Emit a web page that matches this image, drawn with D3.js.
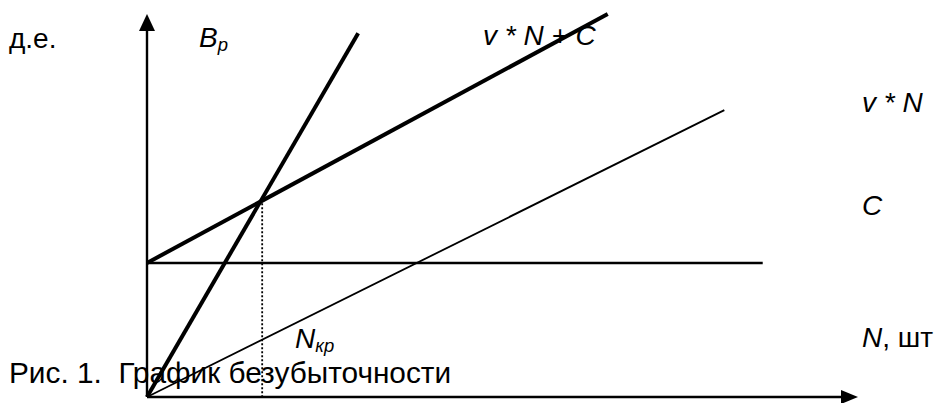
<!DOCTYPE html>
<html>
<head>
<meta charset="utf-8">
<script src="https://cdn.jsdelivr.net/npm/d3@7"></script>
<style>
  body { margin: 0; background: #fff; }
  text { font-family: "Liberation Sans", Arial, sans-serif; fill: #000; white-space: pre; }
</style>
</head>
<body>
<svg id="chart" width="934" height="403"></svg>
<script>
// break-even chart, values in conventional units (N 0..100, money 0..100)
var revenue = [[0, 0], [29.7, 95]]
var totalCost = [[0, 35], [64.8, 100]]
var variableCost = [[0, 0], [81.2, 74.9]]
var fixedCost = [[0, 35], [86.6, 35]]
var breakEven = [16.2, 50.6]

var svg = d3.select("#chart")

var x = d3.scaleLinear().domain([0, 100]).range([147, 858])
var y = d3.scaleLinear().domain([0, 100]).range([397, 14])

var line = d3.line()
    .x(function(d) { return x(d[0]) })
    .y(function(d) { return y(d[1]) })

// texts go under the lines, as in the original
var labels = svg.append("g").attr("class", "labels")
var fs = 28

function label(px, py, parts, italic, size) {
    var f = size || fs
    var t = labels.append("text")
        .attr("x", px)
        .attr("y", py)
        .style("font-size", f + "px")
    if (italic) t.style("font-style", "italic")
    parts.forEach(function(p) {
        var s = t.append("tspan").text(p.t)
        if (p.sub) s.attr("baseline-shift", "-22%").style("font-size", (f * 0.66) + "px")
        if (p.upright) s.style("font-style", "normal")
    })
    return t
}

label(9, 48, [{t: "д.е."}], false)
label(199, 47, [{t: "В"}, {t: "р", sub: true}], true)
label(483, 45, [{t: "v * N + C"}], true)
label(862, 112, [{t: "v * N"}], true)
label(862, 215, [{t: "C"}], true)
label(295, 348, [{t: "N"}, {t: "кр", sub: true}], true)
label(862, 347, [{t: "N"}, {t: ", шт", upright: true}], true)
label(9, 383, [{t: "Рис. 1.  График безубыточности"}], false, 29.8)

// axes
var axes = svg.append("g").attr("class", "axes")
axes.append("line")
    .attr("x1", x(0)).attr("y1", y(0))
    .attr("x2", x(0)).attr("y2", y(100) + 14)
    .attr("stroke", "#000").attr("stroke-width", 2.4)
axes.append("line")
    .attr("x1", x(0)).attr("y1", y(0))
    .attr("x2", x(100) - 14).attr("y2", y(0))
    .attr("stroke", "#000").attr("stroke-width", 2.4)

axes.append("path")
    .attr("d", d3.line()([[x(0), y(100)], [x(0) - 8, y(100) + 17], [x(0) + 8, y(100) + 17]]) + "Z")
    .attr("fill", "#000")
axes.append("path")
    .attr("d", d3.line()([[x(100), y(0)], [x(100) - 17, y(0) - 7], [x(100) - 17, y(0) + 7]]) + "Z")
    .attr("fill", "#000")

// cost and revenue lines
var lines = svg.append("g").attr("class", "lines")
var series = [
    {data: fixedCost, w: 2.4},
    {data: variableCost, w: 1.8},
    {data: totalCost, w: 4},
    {data: revenue, w: 4}
]

lines.selectAll(".series")
    .data(series)
    .enter()
    .append("path")
    .attr("class", "series")
    .attr("d", function(d) { return line(d.data) })
    .attr("fill", "none")
    .attr("stroke", "#000")
    .attr("stroke-width", function(d) { return d.w })

// break-even point drop line
lines.append("line")
    .attr("x1", x(breakEven[0])).attr("y1", y(breakEven[1]))
    .attr("x2", x(breakEven[0])).attr("y2", y(0))
    .attr("stroke", "#000")
    .attr("stroke-width", 1.8)
    .attr("stroke-dasharray", "2,2")
</script>
</body>
</html>
